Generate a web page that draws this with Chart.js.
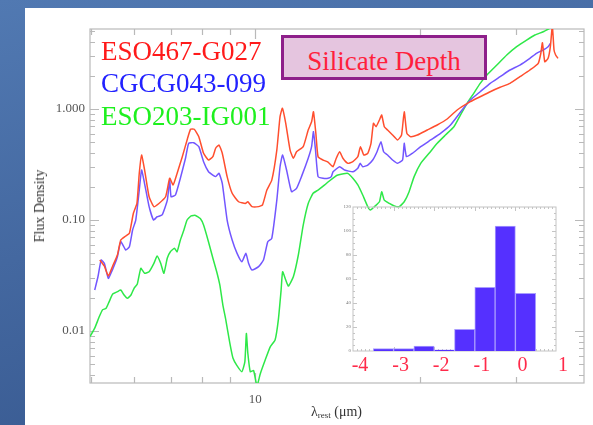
<!DOCTYPE html>
<html>
<head>
<meta charset="utf-8">
<script src="https://cdn.jsdelivr.net/npm/chart.js@4"></script>
<style>
  html, body { margin: 0; padding: 0; }
  body {
    width: 593px; height: 425px; position: relative; overflow: hidden;
    background: linear-gradient(165deg, #5179b2 0%, #4468a0 45%, #34558c 100%);
    font-family: 'Liberation Serif', 'DejaVu Serif', serif;
  }
  #panel { position: absolute; left: 25px; top: 8px; right: 0; bottom: 0; background: #fff; }
  #spec { position: absolute; left: 0; top: 0; }
  #depth { position: absolute; left: 330px; top: 200px; }
  #tag {
    position: absolute; left: 281px; top: 35px; width: 206px; height: 45px;
    box-sizing: border-box; border: 3px solid #8e1f8a; background: #e5c5df;
    color: #ff1f3c; font-size: 27px; line-height: 46px; text-align: center; white-space: nowrap;
  }
  #xt { position: absolute; left: 311px; top: 404px; font-size: 14px; line-height: 16px; color: #333; white-space: nowrap; }
  #xt sub { font-size: 9px; vertical-align: -2px; line-height: 0; }
  #yt {
    position: absolute; left: 40px; top: 206px; transform: translate(-50%, -50%) rotate(-90deg);
    font-size: 14px; color: #333; white-space: nowrap;
  }
</style>
</head>
<body>
<div id="panel"></div>
<canvas id="spec" width="593" height="425"></canvas>
<canvas id="depth" width="240" height="185"></canvas>
<div id="tag">Silicate Depth</div>
<div id="xt">λ<sub>rest</sub> (μm)</div>
<div id="yt">Flux Density</div>
<script>
// Spectra: rest wavelength (micron) and flux density
const seriesNames = ['ESO467-G027', 'CGCG043-099', 'ESO203-IG001'];
const lineColors = ['#ff4e2e', '#7256ff', '#2ee848'];
const nameColors = ['#ff1a1a', '#2222ff', '#1ef01e'];

const redWave = [5.19, 5.29, 5.38, 5.48, 5.59, 5.67, 5.79, 5.88, 5.98, 6.07, 6.13, 6.19, 6.27, 6.39, 6.52, 6.66, 6.85, 6.97, 7.07, 7.19,
  7.35, 7.50, 7.61, 7.73, 7.88, 8.04, 8.21, 8.36, 8.46, 8.58, 8.70, 8.88, 9.07, 9.32, 9.59, 9.69, 9.86, 10.14, 10.31, 10.50,
  10.72, 10.95, 11.10, 11.21, 11.37, 11.58, 11.74, 11.90, 12.24, 12.50, 12.68, 12.78, 12.91, 13.03, 13.31, 13.59, 13.88, 14.07, 14.27, 14.47,
  14.78, 15.09, 15.41, 15.58, 15.80, 16.07, 16.29, 16.46, 16.64, 16.88, 17.04, 17.23, 17.47, 17.84, 18.22, 18.53, 18.74, 18.95, 19.26, 19.81,
  20.66, 21.54, 22.46, 23.43, 24.77, 25.82, 26.93, 28.08, 29.28, 30.53, 31.84, 32.98, 33.34, 33.57, 33.90, 34.38, 34.71, 35.00, 35.25, 35.49, 35.84];
const redFlux = [0.0436, 0.0385, 0.0313, 0.0385, 0.0484, 0.0660, 0.0718, 0.0759, 0.115, 0.141, 0.263, 0.385, 0.282, 0.162, 0.132, 0.141, 0.162, 0.238, 0.207, 0.263,
  0.372, 0.526, 0.657, 0.657, 0.563, 0.399, 0.347, 0.372, 0.443, 0.474, 0.399, 0.246, 0.174, 0.146, 0.141, 0.146, 0.132, 0.132, 0.137, 0.186,
  0.229, 0.427, 0.853, 1.015, 0.743, 0.427, 0.360, 0.412, 0.458, 0.647, 0.768, 0.946, 0.604, 0.372, 0.347, 0.333, 0.302, 0.360, 0.412, 0.360,
  0.324, 0.335, 0.372, 0.458, 0.385, 0.399, 0.491, 0.743, 0.693, 0.796, 0.883, 0.693, 0.647, 0.583, 0.526, 0.583, 0.946, 0.604, 0.563, 0.583,
  0.647, 0.718, 0.813, 0.980, 1.164, 1.291, 1.432, 1.569, 1.704, 1.954, 2.246, 2.580, 3.175, 3.957, 2.668, 2.862, 3.642, 5.600, 3.401, 3.065, 2.862];

const blueWave = [5.08, 5.15, 5.22, 5.29, 5.38, 5.44, 5.52, 5.59, 5.67, 5.79, 5.88, 5.96, 6.04, 6.13, 6.19, 6.26, 6.39, 6.51, 6.61, 6.75,
  6.90, 6.97, 7.01, 7.14, 7.29, 7.45, 7.55, 7.71, 7.88, 8.04, 8.21, 8.36, 8.46, 8.58, 8.70, 8.88, 9.07, 9.26, 9.45, 9.61,
  9.72, 9.86, 10.14, 10.35, 10.54, 10.72, 10.95, 11.10, 11.22, 11.41, 11.65, 11.90, 12.15, 12.50, 12.68, 12.78, 12.89, 13.03, 13.31, 13.59,
  13.78, 13.88, 14.27, 14.57, 15.09, 15.41, 15.56, 15.73, 16.07, 16.41, 16.71, 16.99, 17.18, 17.47, 17.84, 18.22, 18.61, 18.74, 18.92, 19.39,
  20.09, 20.95, 21.84, 22.78, 23.92, 24.77, 25.82, 26.93, 28.08, 29.28, 30.53, 31.84, 32.74, 33.68, 34.38, 34.71];
const blueFlux = [0.0234, 0.0308, 0.0436, 0.0407, 0.0298, 0.0331, 0.0393, 0.0467, 0.0638, 0.0537, 0.0575, 0.0813, 0.100, 0.186, 0.282, 0.221, 0.132, 0.100, 0.107, 0.111,
  0.151, 0.229, 0.162, 0.168, 0.238, 0.360, 0.491, 0.497, 0.458, 0.335, 0.272, 0.254, 0.246, 0.263, 0.214, 0.100, 0.0660, 0.0501, 0.0421, 0.0501,
  0.0407, 0.0354, 0.0380, 0.0436, 0.0638, 0.0684, 0.151, 0.302, 0.385, 0.282, 0.180, 0.193, 0.246, 0.360, 0.458, 0.625, 0.427, 0.246, 0.238, 0.238,
  0.246, 0.272, 0.302, 0.282, 0.272, 0.292, 0.324, 0.302, 0.313, 0.347, 0.412, 0.507, 0.412, 0.385, 0.347, 0.324, 0.347, 0.491, 0.372, 0.399,
  0.458, 0.526, 0.604, 0.718, 0.980, 1.205, 1.432, 1.704, 1.954, 2.246, 2.491, 2.862, 3.175, 3.401, 3.642, 3.908];

const greenWave = [4.98, 5.08, 5.18, 5.25, 5.33, 5.40, 5.48, 5.59, 5.67, 5.75, 5.83, 5.92, 6.00, 6.08, 6.17, 6.27, 6.39, 6.52, 6.61, 6.71,
  6.80, 6.90, 6.99, 7.11, 7.19, 7.29, 7.40, 7.50, 7.63, 7.77, 7.93, 8.04, 8.21, 8.36, 8.50, 8.61, 8.72, 8.83, 8.98, 9.10,
  9.25, 9.45, 9.57, 9.63, 9.69, 9.79, 9.93, 10.07, 10.21, 10.43, 10.65, 10.87, 11.02, 11.15, 11.22, 11.37, 11.50, 11.74, 11.99, 12.24,
  12.50, 12.76, 13.03, 13.40, 13.59, 13.98, 14.17, 14.78, 15.09, 15.41, 15.73, 16.07, 16.25, 16.53, 16.88, 17.04, 17.23, 17.60, 17.97, 18.35,
  18.74, 19.13, 19.54, 20.09, 20.81, 21.54, 22.30, 23.11, 23.75, 24.43, 25.12, 25.82, 26.56, 27.70, 28.88, 30.11, 31.40, 32.51, 33.68, 34.62];
const greenFlux = [0.0089, 0.0106, 0.0135, 0.0155, 0.0160, 0.0184, 0.0215, 0.0226, 0.0234, 0.0211, 0.0197, 0.0211, 0.0244, 0.0265, 0.0367, 0.0331, 0.0342, 0.0407, 0.0474, 0.0407,
  0.0331, 0.0455, 0.0518, 0.0556, 0.0518, 0.0660, 0.0813, 0.100, 0.109, 0.110, 0.103, 0.090, 0.0634, 0.0455, 0.0340, 0.0260, 0.0172, 0.0126, 0.0078, 0.0057,
  0.0049, 0.0043, 0.0053, 0.0095, 0.0063, 0.0043, 0.0044, 0.0032, 0.0041, 0.0055, 0.0072, 0.0083, 0.0126, 0.0234, 0.0342, 0.0288, 0.0254, 0.0308, 0.0484, 0.0901,
  0.141, 0.174, 0.186, 0.207, 0.220, 0.245, 0.254, 0.263, 0.238, 0.207, 0.168, 0.132, 0.123, 0.132, 0.146, 0.180, 0.151, 0.141, 0.134, 0.132,
  0.146, 0.180, 0.246, 0.324, 0.399, 0.491, 0.583, 0.693, 0.883, 1.126, 1.385, 1.704, 2.024, 2.491, 3.065, 3.642, 4.183, 4.643, 4.971, 5.334];

// Axis labels shown on the spectrum plot
const xLabelled = [10];
const yLabelled = [0.01, 0.1, 1];
const yLabelText = ['0.01', '0.10', '1.000'];

// Silicate depth histogram: bin centres and counts
const depthBins = [-3.75, -3.25, -2.75, -2.25, -1.75, -1.25, -0.75, -0.25, 0.25, 0.75];
const depthCounts = [0, 2, 2, 4, 1, 18, 53, 104, 48, 0];
const depthTicks = [-4, -3, -2, -1, 0, 1];

const near = (a, b) => Math.abs(a - b) <= 1e-9 * Math.max(1, Math.abs(b));

// Plot frame with inward ticks on all four sides
const frameTicks = {
  id: 'frameTicks',
  beforeDatasetsDraw(chart, args, o) {
    const { ctx, chartArea: a, scales } = chart;
    ctx.save();
    ctx.strokeStyle = o.color;
    ctx.lineWidth = o.width;
    ctx.strokeRect(a.left, a.top, a.right - a.left, a.bottom - a.top);
    ctx.beginPath();
    for (const t of o.x) {
      const px = Math.round(scales.x.getPixelForValue(t.v)) + 0.5;
      ctx.moveTo(px, a.bottom); ctx.lineTo(px, a.bottom - t.len);
      ctx.moveTo(px, a.top); ctx.lineTo(px, a.top + t.len);
    }
    for (const t of o.y) {
      const py = Math.round(scales.y.getPixelForValue(t.v)) + 0.5;
      ctx.moveTo(a.left, py); ctx.lineTo(a.left + t.len, py);
      ctx.moveTo(a.right, py); ctx.lineTo(a.right - t.len, py);
    }
    ctx.stroke();
    ctx.restore();
  }
};

// Object names written in their line colours
const nameLegend = {
  id: 'nameLegend',
  afterDraw(chart, args, o) {
    const ctx = chart.ctx;
    ctx.save();
    ctx.font = o.font;
    ctx.textBaseline = 'alphabetic';
    chart.data.datasets.forEach((d, i) => {
      ctx.fillStyle = o.colors[i];
      ctx.fillText(d.label, o.x, o.y + i * o.step);
    });
    ctx.restore();
  }
};

const X_MIN = 4.98, X_MAX = 40, Y_MIN = 0.0034, Y_MAX = 5.26;

function logTicks(lo, hi, majorLen, minorLen) {
  const out = [];
  for (let e = Math.floor(Math.log10(lo)); e <= Math.ceil(Math.log10(hi)); e++) {
    for (let k = 1; k <= 9; k++) {
      const v = k * Math.pow(10, e);
      if (v > lo && v < hi) out.push({ v, len: k === 1 ? majorLen : minorLen });
    }
  }
  return out;
}

function linTicks(lo, hi, step, every, majorLen, minorLen) {
  const out = [];
  const n = Math.round((hi - lo) / step);
  for (let i = 1; i < n; i++) {
    out.push({ v: lo + i * step, len: i % every === 0 ? majorLen : minorLen });
  }
  return out;
}

const serif = 'Liberation Serif';

new Chart(document.getElementById('spec'), {
  type: 'line',
  data: {
    datasets: [
      [redWave, redFlux], [blueWave, blueFlux], [greenWave, greenFlux]
    ].map(([w, f], i) => ({
      label: seriesNames[i],
      data: w.map((x, j) => ({ x, y: f[j] })),
      borderColor: lineColors[i],
      borderWidth: 1.5,
      pointRadius: 0,
      tension: 0.15,
      fill: false,
      clip: 0
    }))
  },
  options: {
    responsive: false,
    animation: false,
    devicePixelRatio: 1,
    layout: { padding: { left: 0, right: 5, top: 29, bottom: 0 } },
    scales: {
      x: {
        type: 'logarithmic', min: X_MIN, max: X_MAX, bounds: 'data',
        grid: { display: false, drawTicks: false }, border: { display: false },
        ticks: {
          autoSkip: false, maxRotation: 0, padding: 9, color: '#555',
          font: { family: serif, size: 13 },
          callback: (v) => (xLabelled.some((t) => near(v, t)) ? String(v) : '')
        },
        afterFit(s) { s.height = 42; }
      },
      y: {
        type: 'logarithmic', min: Y_MIN, max: Y_MAX, bounds: 'data',
        grid: { display: false, drawTicks: false }, border: { display: false },
        ticks: {
          autoSkip: false, padding: 5, color: '#555',
          font: { family: serif, size: 13 },
          callback: (v) => {
            const i = yLabelled.findIndex((t) => near(v, t));
            return i >= 0 ? yLabelText[i] : '';
          }
        },
        afterFit(s) { s.width = 90; }
      }
    },
    plugins: {
      legend: { display: false },
      tooltip: { enabled: false },
      frameTicks: {
        color: '#b9b9b9', width: 1.2,
        x: logTicks(X_MIN, X_MAX, 10, 6),
        y: logTicks(Y_MIN, Y_MAX, 9, 5)
      },
      nameLegend: {
        font: '27px "Liberation Serif"', colors: nameColors, x: 101, y: 60, step: 32.3
      }
    }
  },
  plugins: [frameTicks, nameLegend]
});

new Chart(document.getElementById('depth'), {
  type: 'bar',
  data: {
    datasets: [{
      label: 'Silicate Depth',
      data: depthBins.map((x, i) => ({ x, y: depthCounts[i] })),
      backgroundColor: '#5530ff',
      borderColor: '#a99cff',
      borderWidth: 1,
      barPercentage: 1,
      categoryPercentage: 1
    }]
  },
  options: {
    responsive: false,
    animation: false,
    devicePixelRatio: 1,
    layout: { padding: { left: 0, right: 14, top: 7, bottom: 0 } },
    scales: {
      x: {
        type: 'linear', min: -4, max: 1, offset: false,
        grid: { display: false, drawTicks: false }, border: { display: false },
        afterBuildTicks(s) { s.ticks = depthTicks.map((value) => ({ value })); },
        ticks: {
          autoSkip: false, maxRotation: 0, padding: 3, labelOffset: 7,
          color: '#ff2a4a', font: { family: serif, size: 20 },
          callback: (v) => String(v)
        },
        afterFit(s) { s.height = 34; }
      },
      y: {
        min: 0, max: 120,
        grid: { display: false, drawTicks: false }, border: { display: false },
        ticks: { stepSize: 20, padding: 2, color: '#777', font: { family: serif, size: 5 } },
        afterFit(s) { s.width = 23; }
      }
    },
    plugins: {
      legend: { display: false },
      tooltip: { enabled: false },
      frameTicks: {
        color: '#c4c4c4', width: 1,
        x: linTicks(-4, 1, 0.1, 10, 4, 2),
        y: linTicks(0, 120, 5, 4, 4, 2)
      }
    }
  },
  plugins: [frameTicks]
});
</script>
</body>
</html>
